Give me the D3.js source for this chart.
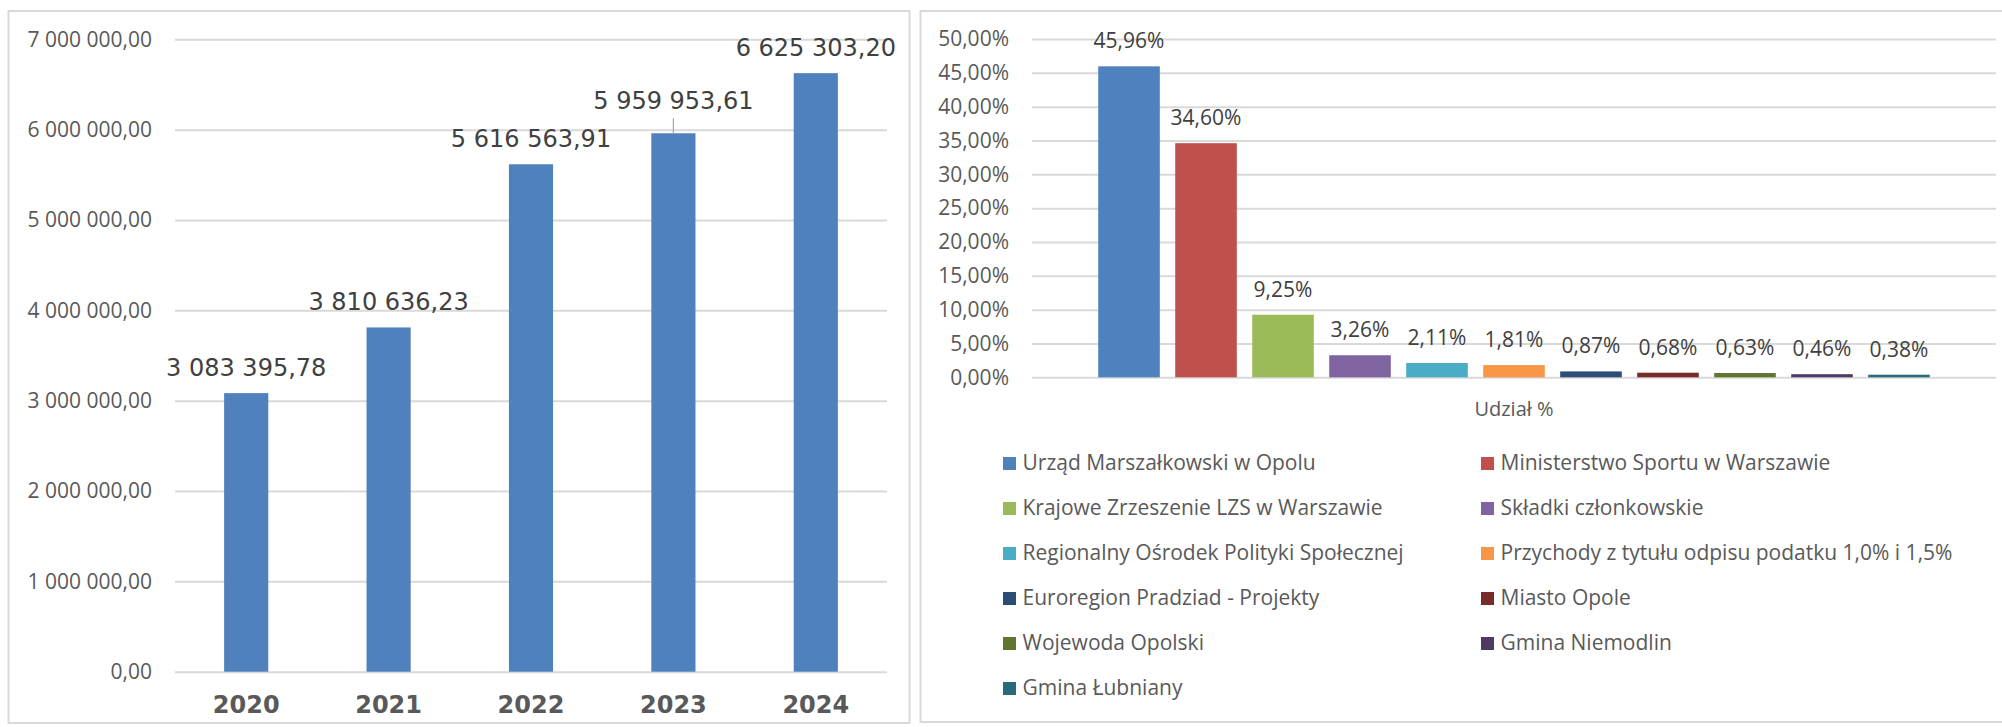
<!DOCTYPE html>
<html lang="pl">
<head>
<meta charset="UTF-8">
<title>Przychody</title>
<script src="https://d3js.org/d3.v7.min.js"></script>
<style>
  body { margin: 0; background: #fff; }
  .tick line { stroke: #d9d9d9; stroke-width: 2px; }
</style>
</head>
<body>
<script>
// left chart data
const years = ["2020", "2021", "2022", "2023", "2024"];
const amounts = [3083395.78, 3810636.23, 5616563.91, 5959953.61, 6625303.20];
const amountTicks = [0, 1000000, 2000000, 3000000, 4000000, 5000000, 6000000, 7000000];

// right chart data
const sources = [
  "Urząd Marszałkowski w Opolu",
  "Ministerstwo Sportu w Warszawie",
  "Krajowe Zrzeszenie LZS w Warszawie",
  "Składki członkowskie",
  "Regionalny Ośrodek Polityki Społecznej",
  "Przychody z tytułu odpisu podatku 1,0% i 1,5%",
  "Euroregion Pradziad - Projekty",
  "Miasto Opole",
  "Wojewoda Opolski",
  "Gmina Niemodlin",
  "Gmina Łubniany"
];
const shares = [45.96, 34.60, 9.25, 3.26, 2.11, 1.81, 0.87, 0.68, 0.63, 0.46, 0.38];
const shareTicks = [0, 5, 10, 15, 20, 25, 30, 35, 40, 45, 50];
const sourceColors = ["#4f81bd", "#c0504d", "#9bbb59", "#8064a2", "#4bacc6", "#f79646",
                      "#2c4d75", "#772c2a", "#5f7530", "#4d3b62", "#276a7c"];
const shareAxisTitle = "Udział %";

const width = 2002, height = 727;
const pl = d3.formatLocale({decimal: ",", thousands: " ", grouping: [3], currency: ["", " zł"]});
const fmtMoney = pl.format(",.2f");
const fmtPct = v => pl.format(".2f")(v) + "%";

const svg = d3.select("body").append("svg")
    .attr("width", width)
    .attr("height", height);

// panel borders
svg.append("rect").attr("x", 8.5).attr("y", 11).attr("width", 901).attr("height", 712)
    .attr("fill", "none").attr("stroke", "#d9d9d9").attr("stroke-width", 2);
svg.append("rect").attr("x", 920.5).attr("y", 11).attr("width", 1090).attr("height", 711)
    .attr("fill", "none").attr("stroke", "#d9d9d9").attr("stroke-width", 2);

// ---------- left: yearly amounts ----------
const x1 = d3.scaleBand().domain(years).range([175, 887])
    .paddingInner(0.69).paddingOuter(0.345);
const y1 = d3.scaleLinear().domain([0, 7000000]).range([671.7, 39.3]);

const g1 = svg.append("g");
g1.append("g")
    .attr("transform", "translate(175,0)")
    .call(d3.axisLeft(y1).tickValues(amountTicks).tickFormat(fmtMoney)
        .tickSize(-(887 - 175)).tickPadding(23))
    .call(g => g.select(".domain").remove())
    .call(g => g.selectAll("text")
        .attr("font-family", "'Open Sans', sans-serif")
        .attr("font-size", 21)
        .attr("fill", "#595959"));

g1.selectAll("rect.bar")
  .data(amounts)
  .enter().append("rect")
    .attr("class", "bar")
    .attr("x", (d, i) => x1(years[i]))
    .attr("y", d => y1(d))
    .attr("width", x1.bandwidth())
    .attr("height", d => y1(0) - y1(d))
    .attr("fill", "#4f81bd");

// 2023 label sits a bit higher with a leader line
const labelLift = [0, 0, 0, 7, 0];
g1.selectAll("text.val")
  .data(amounts)
  .enter().append("text")
    .attr("class", "val")
    .attr("x", (d, i) => x1(years[i]) + x1.bandwidth() / 2)
    .attr("y", (d, i) => y1(d) - 17 - labelLift[i])
    .attr("text-anchor", "middle")
    .attr("font-family", "'DejaVu Sans', sans-serif")
    .attr("font-size", 24)
    .attr("fill", "#404040")
    .text(d => fmtMoney(d));

g1.selectAll("line.leader")
  .data(amounts.filter((d, i) => labelLift[i] > 0))
  .enter().append("line")
    .attr("class", "leader")
    .attr("x1", d => x1(years[amounts.indexOf(d)]) + x1.bandwidth() / 2)
    .attr("x2", d => x1(years[amounts.indexOf(d)]) + x1.bandwidth() / 2)
    .attr("y1", d => y1(d) - 15)
    .attr("y2", d => y1(d))
    .attr("stroke", "#a6a6a6")
    .attr("stroke-width", 1.2);

g1.append("g")
    .attr("transform", "translate(0,671.7)")
    .call(d3.axisBottom(x1).tickSize(0).tickPadding(24))
    .call(g => g.select(".domain").remove())
    .call(g => g.selectAll("text")
        .attr("font-family", "'DejaVu Sans', sans-serif")
        .attr("font-weight", "bold")
        .attr("font-size", 24)
        .attr("fill", "#595959"));

// ---------- right: share by source ----------
const x2 = d3.scaleBand().domain(sources).range([1032, 1996])
    .paddingInner(0.2).paddingOuter(0.86);
const y2 = d3.scaleLinear().domain([0, 50]).range([377.3, 39]);

const g2 = svg.append("g");
g2.append("g")
    .attr("transform", "translate(1032,0)")
    .call(d3.axisLeft(y2).tickValues(shareTicks).tickFormat(fmtPct)
        .tickSize(-(1996 - 1032)).tickPadding(23))
    .call(g => g.select(".domain").remove())
    .call(g => g.selectAll("text")
        .attr("font-family", "'Open Sans', sans-serif")
        .attr("font-size", 21)
        .attr("fill", "#595959"));

g2.selectAll("rect.bar")
  .data(shares)
  .enter().append("rect")
    .attr("class", "bar")
    .attr("x", (d, i) => x2(sources[i]))
    .attr("y", d => y2(d))
    .attr("width", x2.bandwidth())
    .attr("height", d => y2(0) - y2(d))
    .attr("fill", (d, i) => sourceColors[i]);

g2.selectAll("text.val")
  .data(shares)
  .enter().append("text")
    .attr("class", "val")
    .attr("x", (d, i) => x2(sources[i]) + x2.bandwidth() / 2)
    .attr("y", d => y2(d) - 18)
    .attr("text-anchor", "middle")
    .attr("font-family", "'Open Sans', sans-serif")
    .attr("font-size", 21)
    .attr("fill", "#404040")
    .text(d => fmtPct(d));

g2.append("text")
    .attr("x", (1032 + 1996) / 2)
    .attr("y", 416)
    .attr("text-anchor", "middle")
    .attr("font-family", "'Open Sans', sans-serif")
    .attr("font-size", 20)
    .attr("fill", "#595959")
    .text(shareAxisTitle);

// legend, two columns
const legend = g2.append("g");
const item = legend.selectAll("g")
  .data(sources)
  .enter().append("g")
    .attr("transform", (d, i) => "translate(" + (i % 2 ? 1481 : 1003) + "," + (470 + 45 * Math.floor(i / 2)) + ")");
item.append("rect")
    .attr("x", 0).attr("y", -13)
    .attr("width", 13).attr("height", 13)
    .attr("fill", (d, i) => sourceColors[i]);
item.append("text")
    .attr("x", 19.5)
    .attr("y", 0)
    .attr("font-family", "'Open Sans', sans-serif")
    .attr("font-size", 21)
    .attr("fill", "#595959")
    .text(d => d);
</script>
</body>
</html>
